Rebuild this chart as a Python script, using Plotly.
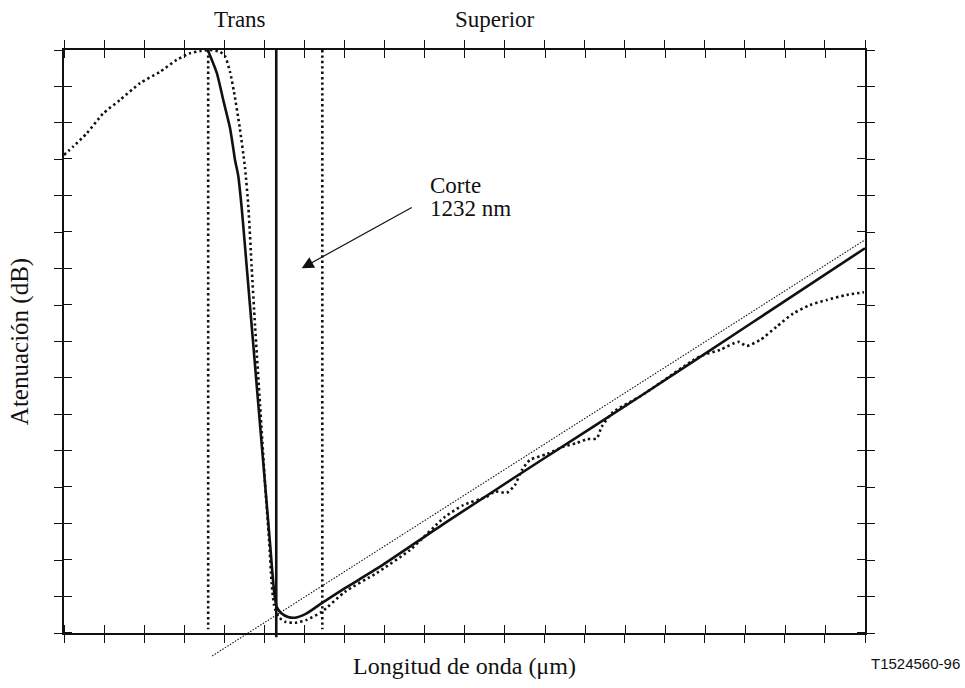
import plotly.graph_objects as go

# ---- data -------------------------------------------------------------
# wavelength axis in nm, attenuation in dB (arbitrary offset)
x_range = [1126, 1526]
y_range = [0, 16]
x_step = 20
y_step = 1

cutoff_nm = 1232          # cut-off wavelength
trans_nm = 1198           # left limit of the transition region
sup_nm = 1255             # upper limit line

# attenuation curve, measurement A (solid)
solid_x = [1197.8, 1202.3, 1205.6, 1208.9, 1210.5, 1211.4, 1213.0, 1214.7,
           1216.4, 1218.9, 1221.4, 1223.9, 1226.4, 1228.9, 1230.9, 1232.2,
           1234.4, 1237.9, 1241.4, 1247.2, 1254.7, 1266.3, 1283.8, 1317.1,
           1363.7, 1413.6, 1468.6, 1526.0]
solid_y = [16.0, 15.37, 14.61, 13.86, 13.31, 12.98, 12.55, 11.69,
           10.60, 8.97, 7.34, 5.71, 4.09, 2.45, 1.15, 0.72,
           0.55, 0.44, 0.42, 0.54, 0.82, 1.23, 1.82, 3.05,
           4.72, 6.49, 8.48, 10.56]

# attenuation curve, measurement B (dotted)
dotted_x = [1126.0, 1130.6, 1137.3, 1145.6, 1154.0, 1164.0, 1173.9, 1182.3,
            1188.9, 1193.9, 1198.9, 1203.9, 1206.4, 1208.9, 1210.9, 1213.7,
            1216.4, 1218.1, 1219.7, 1221.4, 1223.9, 1226.4, 1228.4, 1229.7,
            1230.9, 1233.0, 1236.4, 1241.4, 1247.2, 1254.7, 1266.3, 1282.2,
            1298.8, 1316.3, 1325.4, 1337.1, 1341.2, 1347.1, 1351.2, 1354.6,
            1358.7, 1367.1, 1375.3, 1382.0, 1387.0, 1392.0, 1394.5, 1400.3,
            1413.6, 1423.6, 1440.3, 1445.3, 1453.6, 1462.7, 1466.9, 1473.6,
            1481.9, 1490.2, 1498.5, 1506.9, 1516.9, 1525.5]
dotted_y = [13.12, 13.35, 13.71, 14.26, 14.63, 15.09, 15.40, 15.73,
            15.91, 15.97, 16.0, 15.95, 15.83, 15.40, 14.85, 13.89,
            12.76, 11.67, 10.06, 8.43, 6.26, 4.09, 2.55, 1.37,
            0.77, 0.45, 0.31, 0.28, 0.36, 0.58, 1.13, 1.65,
            2.28, 3.19, 3.51, 3.74, 3.88, 3.85, 4.06, 4.47,
            4.75, 4.91, 5.11, 5.21, 5.32, 5.34, 5.66, 6.07,
            6.49, 6.86, 7.49, 7.63, 7.77, 7.99, 7.88, 8.04,
            8.41, 8.77, 9.00, 9.14, 9.28, 9.35]

# straight reference line
fit_x = [1200, 1526]
fit_y = [-0.63, 10.79]

# ---- geometry ---------------------------------------------------------
W, H = 965, 688
m_l, m_r, m_t, m_b = 64, 100, 50, 30
plot_h = H - m_t - m_b
below_px = 25                      # room under the x axis for overhanging marks
y_dom0 = below_px / plot_h
y_per_px = (y_range[1] - y_range[0]) / (plot_h - below_px)
y3_range = [y_range[0] - below_px * y_per_px, y_range[1]]

ink = "#111111"
serif = "Liberation Serif, Times New Roman, serif"

fig = go.Figure()

# curves
fig.add_trace(go.Scatter(x=dotted_x, y=dotted_y, mode="lines",
                         line=dict(color=ink, width=2.6, dash="2.4px,3px",
                                   shape="spline", smoothing=0.6),
                         hoverinfo="skip"))
fig.add_trace(go.Scatter(x=solid_x, y=solid_y, mode="lines",
                         line=dict(color=ink, width=2.6, shape="spline",
                                   smoothing=0.6),
                         hoverinfo="skip"))

# dotted vertical limits
for xv in (trans_nm, sup_nm):
    fig.add_trace(go.Scatter(x=[xv, xv], y=[y_range[1], 0.1], mode="lines",
                             line=dict(color=ink, width=2.6, dash="2.4px,3px"),
                             hoverinfo="skip"))

# cut-off line and reference line may run past the bottom axis
fig.add_trace(go.Scatter(x=[cutoff_nm, cutoff_nm], y=[y_range[1], -0.12],
                         mode="lines", line=dict(color=ink, width=2.6),
                         yaxis="y3", hoverinfo="skip"))
fig.add_trace(go.Scatter(x=fit_x, y=fit_y, mode="lines",
                         line=dict(color=ink, width=1.1, dash="1.5px,1.5px"),
                         yaxis="y3", hoverinfo="skip"))


def crossing_ticks(r0, step):
    """Outer major ticks plus inner minor ticks at nearly the same spots,
    so every tick mark crosses the frame line."""
    return dict(
        tickmode="linear", tick0=r0, dtick=step, ticks="outside",
        ticklen=8, tickwidth=1.2, tickcolor=ink,
        minor=dict(tick0=r0 + step * 0.01, dtick=step,
                   ticks="inside", ticklen=8, tickwidth=1.2,
                   tickcolor=ink, showgrid=False),
        mirror="ticks", showline=True, linecolor=ink, linewidth=1.5,
        showgrid=False, zeroline=False, showticklabels=False,
    )


fig.update_layout(
    width=W, height=H,
    margin=dict(l=m_l, r=m_r, t=m_t, b=m_b),
    paper_bgcolor="white", plot_bgcolor="rgba(0,0,0,0)",
    showlegend=False,
    xaxis=dict(range=x_range, anchor="y",
               title=dict(text="Longitud de onda (μm)",
                          font=dict(family=serif, size=24, color=ink),
                          standoff=15),
               **crossing_ticks(x_range[0], x_step)),
    yaxis=dict(range=y_range, domain=[y_dom0, 1], anchor="x",
               title=dict(text="Atenuación (dB)",
                          font=dict(family=serif, size=25, color=ink),
                          standoff=19),
               **crossing_ticks(y_range[0], y_step)),
    yaxis3=dict(range=y3_range, domain=[0, 1], anchor="x", visible=False,
                showgrid=False, zeroline=False),
)


def paper_y(px):
    return (H - m_b - px) / plot_h


label_font = dict(family=serif, size=23, color=ink)
annotations = [
    dict(text="Trans", x=1214, xref="x", xanchor="center",
         y=paper_y(19.5), yref="paper", yanchor="middle",
         showarrow=False, font=label_font),
    dict(text="Superior", x=1341, xref="x", xanchor="center",
         y=paper_y(19.5), yref="paper", yanchor="middle",
         showarrow=False, font=label_font),
    dict(text="Corte", x=1308, xref="x", xanchor="left", y=12.29, yref="y",
         yanchor="middle", showarrow=False, font=label_font),
    dict(text=f"{cutoff_nm} nm", x=1308, xref="x", xanchor="left", y=11.65,
         yref="y", yanchor="middle", showarrow=False, font=label_font),
    dict(text="", x=1244.7, y=10.01, xref="x", yref="y",
         ax=1300.4, ay=11.70, axref="x", ayref="y",
         showarrow=True, arrowhead=2, arrowsize=2, arrowwidth=1.2,
         arrowcolor=ink),
    dict(text="T1524560-96", x=(962 - m_l) / (W - m_l - m_r), xref="paper",
         xanchor="right", y=paper_y(663), yref="paper", yanchor="middle",
         showarrow=False,
         font=dict(family="Liberation Sans, Arial, sans-serif", size=15,
                   color=ink)),
]
fig.update_layout(annotations=annotations)

fig.write_html("out.html")
